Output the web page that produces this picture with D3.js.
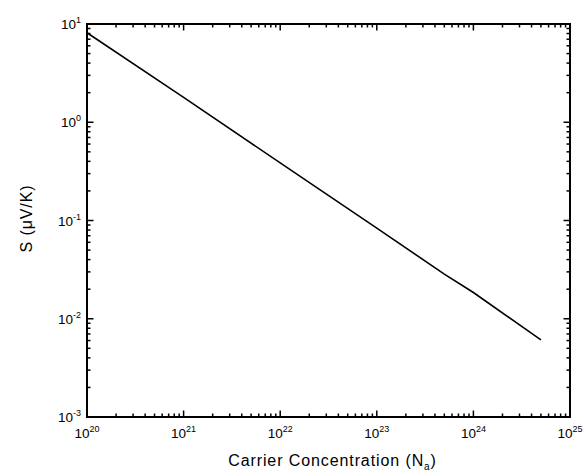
<!DOCTYPE html>
<html>
<head>
<meta charset="utf-8">
<script src="https://cdn.jsdelivr.net/npm/d3@7"></script>
<style>
  body { margin: 0; background: #fff; }
  text { font-family: "Liberation Sans", Arial, sans-serif; fill: #000; }
</style>
</head>
<body>
<div id="chart"></div>
<script>
// Carrier concentration (cm^-3) and Seebeck coefficient (uV/K)
const concentration = [1e20, 1e21, 1e22, 1e23, 5e23, 1e24, 5e24]
const seebeck = [8.15, 1.79, 0.386, 0.0835, 0.0285, 0.0185, 0.0061]

const xDecades = [20, 21, 22, 23, 24, 25]
const yDecades = [-3, -2, -1, 0, 1]

const width = 584
const height = 471
const margin = {top: 24, right: 14, bottom: 54, left: 87}

const svg = d3.select("#chart")
    .append("svg")
    .attr("width", width)
    .attr("height", height)

const x = d3.scaleLog()
    .domain([1e20, 1e25])
    .range([margin.left, width - margin.right])

const y = d3.scaleLog()
    .domain([1e-3, 1e1])
    .range([height - margin.bottom, margin.top])

const x0 = x.range()[0], x1 = x.range()[1]
const y0 = y.range()[0], y1 = y.range()[1]

// minor and major ticks, all pointing inward on every side
function logTicks(decades) {
    let ticks = []
    for (let i = 0; i < decades.length - 1; i++) {
        for (let m = 2; m <= 9; m++) ticks.push(m * Math.pow(10, decades[i]))
    }
    return ticks
}
const xMinor = logTicks(xDecades)
const yMinor = logTicks(yDecades)
const xMajor = xDecades.map(d => Math.pow(10, d))
const yMajor = yDecades.map(d => Math.pow(10, d))

const ticks = svg.append("g")
    .attr("stroke", "#000")
    .attr("stroke-width", 1.5)

function vTicks(vals, len) {
    vals.forEach(v => {
        ticks.append("line").attr("x1", x(v)).attr("x2", x(v)).attr("y1", y0).attr("y2", y0 - len)
        ticks.append("line").attr("x1", x(v)).attr("x2", x(v)).attr("y1", y1).attr("y2", y1 + len)
    })
}
function hTicks(vals, len) {
    vals.forEach(v => {
        ticks.append("line").attr("y1", y(v)).attr("y2", y(v)).attr("x1", x0).attr("x2", x0 + len)
        ticks.append("line").attr("y1", y(v)).attr("y2", y(v)).attr("x1", x1).attr("x2", x1 - len)
    })
}
vTicks(xMinor, 3.5)
vTicks(xMajor, 6.5)
hTicks(yMinor, 3.5)
hTicks(yMajor, 6.5)

// frame
svg.append("rect")
    .attr("x", x0)
    .attr("y", y1)
    .attr("width", x1 - x0)
    .attr("height", y0 - y1)
    .attr("fill", "none")
    .attr("stroke", "#000")
    .attr("stroke-width", 2)

// tick labels
const xLab = svg.append("g")
    .selectAll("text")
    .data(xDecades)
    .join("text")
        .attr("x", d => x(Math.pow(10, d)))
        .attr("y", y0 + 21)
        .attr("text-anchor", "middle")
        .attr("font-size", 13.5)
xLab.append("tspan").text("10")
xLab.append("tspan").attr("font-size", 9).attr("dy", -6).text(d => d)

const yLab = svg.append("g")
    .selectAll("text")
    .data(yDecades)
    .join("text")
        .attr("x", x0 - 6)
        .attr("y", d => y(Math.pow(10, d)) + 5)
        .attr("text-anchor", "end")
        .attr("font-size", 13.5)
yLab.append("tspan").text("10")
yLab.append("tspan").attr("font-size", 9).attr("dy", -6).text(d => d)

// data line
const line = d3.line()
    .x((d, i) => x(concentration[i]))
    .y(d => y(d))

svg.append("path")
    .datum(seebeck)
    .attr("d", line)
    .attr("fill", "none")
    .attr("stroke", "#000")
    .attr("stroke-width", 1.6)

// axis titles
const xTitle = svg.append("text")
    .attr("x", (x0 + x1) / 2 + 4)
    .attr("y", 466)
    .attr("text-anchor", "middle")
    .attr("font-size", 16)
    .attr("letter-spacing", 0.9)
xTitle.append("tspan").text("Carrier Concentration (N")
xTitle.append("tspan").attr("font-size", 10).attr("dy", 4).text("a")
xTitle.append("tspan").attr("dy", -4).text(")")

svg.append("text")
    .attr("transform", `translate(32, ${(y0 + y1) / 2 - 2}) rotate(-90)`)
    .attr("text-anchor", "middle")
    .attr("font-size", 16)
    .attr("letter-spacing", 0.9)
    .text("S (\u03bcV/K)")
</script>
</body>
</html>
